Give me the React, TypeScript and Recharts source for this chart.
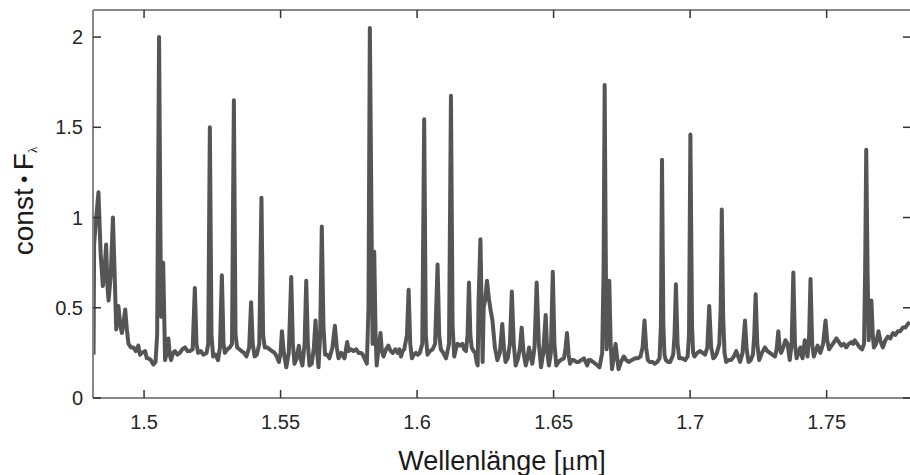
import { Label, Line, LineChart, XAxis, YAxis } from 'recharts'

// wavelength in µm, rows of 10 matching the flux rows below
const wavelength = [
  1.4815, 1.4817, 1.4822, 1.4833, 1.4841, 1.4849, 1.4855, 1.4861, 1.4866, 1.487,
  1.4878, 1.4886, 1.4892, 1.4898, 1.4906, 1.4913, 1.4919, 1.4925, 1.4931, 1.4937,
  1.4943, 1.4952, 1.4961, 1.497, 1.4979, 1.4985, 1.4992, 1.5004, 1.501, 1.5016,
  1.5025, 1.5034, 1.5042, 1.5048, 1.5055, 1.506, 1.5063, 1.507, 1.5077, 1.5083,
  1.5089, 1.5094, 1.5099, 1.5106, 1.5113, 1.5122, 1.5131, 1.514, 1.515, 1.5159,
  1.5168, 1.5178, 1.5186, 1.5192, 1.5198, 1.5208, 1.5217, 1.5229, 1.5235, 1.5241,
  1.5247, 1.5253, 1.5262, 1.5271, 1.5278, 1.5285, 1.5291, 1.5296, 1.5305, 1.5314,
  1.5322, 1.5329, 1.5335, 1.5341, 1.5349, 1.5357, 1.5366, 1.5375, 1.5385, 1.5392,
  1.5398, 1.5405, 1.5413, 1.5422, 1.543, 1.5436, 1.5442, 1.5451, 1.546, 1.5469,
  1.5478, 1.5486, 1.5494, 1.55, 1.5505, 1.5512, 1.5521, 1.553, 1.5539, 1.5545,
  1.5551, 1.5559, 1.5567, 1.5573, 1.558, 1.5588, 1.5594, 1.56, 1.5606, 1.5614,
  1.5622, 1.5628, 1.5634, 1.5639, 1.5645, 1.5651, 1.5657, 1.5663, 1.5671, 1.5679,
  1.569, 1.5699, 1.5706, 1.5712, 1.5722, 1.5734, 1.5744, 1.575, 1.5758, 1.5767,
  1.5777, 1.5786, 1.5795, 1.5801, 1.5807, 1.5816, 1.5822, 1.5827, 1.5833, 1.5837,
  1.5843, 1.5848, 1.5852, 1.5859, 1.5866, 1.5871, 1.5877, 1.5886, 1.5895, 1.5903,
  1.5911, 1.592, 1.5929, 1.5935, 1.5941, 1.5947, 1.5953, 1.5963, 1.5969, 1.5975,
  1.5981, 1.5988, 1.5996, 1.6003, 1.601, 1.6019, 1.6026, 1.6032, 1.6038, 1.6047,
  1.6057, 1.6066, 1.6075, 1.6081, 1.6087, 1.6096, 1.6106, 1.6117, 1.6124, 1.613,
  1.6136, 1.6142, 1.6148, 1.6157, 1.6166, 1.6172, 1.6179, 1.6185, 1.619, 1.6195,
  1.62, 1.6207, 1.6213, 1.6218, 1.6222, 1.6225, 1.6232, 1.6237, 1.624, 1.6244,
  1.625, 1.6256, 1.6263, 1.627, 1.6276, 1.6285, 1.6294, 1.6303, 1.6312, 1.6318,
  1.6324, 1.6332, 1.634, 1.6347, 1.6354, 1.6361, 1.637, 1.6377, 1.6383, 1.639,
  1.6398, 1.6404, 1.641, 1.6416, 1.6422, 1.643, 1.6438, 1.6446, 1.6454, 1.6462,
  1.6471, 1.6477, 1.6483, 1.649, 1.6497, 1.6503, 1.651, 1.6518, 1.6526, 1.6538,
  1.6544, 1.6549, 1.6555, 1.656, 1.6567, 1.6574, 1.6583, 1.6592, 1.6601, 1.6611,
  1.6617, 1.6623, 1.6629, 1.6635, 1.6644, 1.6653, 1.6661, 1.6668, 1.6678, 1.6683,
  1.6687, 1.6691, 1.6694, 1.6699, 1.6704, 1.6709, 1.6714, 1.672, 1.6727, 1.6733,
  1.6738, 1.6747, 1.6757, 1.6766, 1.6775, 1.6787, 1.6799, 1.6808, 1.6818, 1.6826,
  1.6833, 1.6839, 1.6845, 1.6852, 1.6862, 1.687, 1.688, 1.6888, 1.6893, 1.6897,
  1.6902, 1.6906, 1.6911, 1.6919, 1.6927, 1.6938, 1.6943, 1.6948, 1.6954, 1.696,
  1.6971, 1.6982, 1.6991, 1.6996, 1.7001, 1.7007, 1.7011, 1.7016, 1.7026, 1.7037,
  1.7046, 1.7055, 1.7063, 1.707, 1.7077, 1.7085, 1.7092, 1.7098, 1.7107, 1.7112,
  1.7116, 1.7121, 1.7126, 1.7132, 1.7141, 1.715, 1.716, 1.7169, 1.7176, 1.7183,
  1.7192, 1.7201, 1.7207, 1.7214, 1.7222, 1.723, 1.7235, 1.724, 1.7246, 1.7253,
  1.7263, 1.7274, 1.7283, 1.7292, 1.7301, 1.7311, 1.7317, 1.7323, 1.7328, 1.7333,
  1.7341, 1.7349, 1.7357, 1.7365, 1.7372, 1.7378, 1.7384, 1.739, 1.7397, 1.7404,
  1.7408, 1.7412, 1.742, 1.7425, 1.743, 1.7436, 1.7441, 1.7447, 1.7453, 1.746,
  1.7467, 1.7472, 1.7477, 1.7487, 1.7496, 1.7502, 1.7509, 1.7518, 1.7527, 1.7536,
  1.7545, 1.7554, 1.7563, 1.7572, 1.7581, 1.7591, 1.7597, 1.7603, 1.7612, 1.7621,
  1.763, 1.7637, 1.7641, 1.7645, 1.765, 1.7654, 1.7659, 1.7664, 1.7669, 1.7673,
  1.7681, 1.769, 1.7698, 1.7706, 1.7715, 1.7724, 1.7733, 1.7743, 1.7752, 1.7761,
  1.777, 1.7779, 1.7788, 1.7797, 1.7805,
]

const flux = [
  0.24, 0.85, 0.95, 1.14, 0.8, 0.62, 0.7, 0.85, 0.62, 0.54,
  0.68, 1.0, 0.7, 0.38, 0.51, 0.4, 0.36, 0.42, 0.49, 0.38,
  0.3, 0.28, 0.28, 0.26, 0.29, 0.24, 0.25, 0.26, 0.22, 0.22,
  0.21, 0.185, 0.2, 0.35, 2.0, 0.9, 0.45, 0.75, 0.21, 0.25,
  0.33, 0.24, 0.21, 0.25, 0.26, 0.24, 0.25, 0.27, 0.28, 0.26,
  0.26, 0.27, 0.61, 0.3, 0.25, 0.26, 0.24, 0.25, 0.3, 1.5,
  0.35, 0.23, 0.24, 0.21, 0.28, 0.68, 0.3, 0.25, 0.27, 0.28,
  0.3, 1.65, 0.35, 0.28, 0.27, 0.26, 0.25, 0.23, 0.28, 0.53,
  0.3, 0.23, 0.24, 0.3, 1.11, 0.35, 0.28, 0.28, 0.27, 0.26,
  0.25, 0.23, 0.2, 0.25, 0.37, 0.25, 0.17, 0.25, 0.67, 0.3,
  0.19, 0.22, 0.29, 0.22, 0.18, 0.3, 0.65, 0.3, 0.18, 0.19,
  0.28, 0.43, 0.25, 0.17, 0.35, 0.95, 0.4, 0.24, 0.24, 0.22,
  0.28, 0.4, 0.28, 0.22, 0.25, 0.22, 0.31, 0.26, 0.27, 0.26,
  0.27, 0.25, 0.25, 0.24, 0.22, 0.19, 0.5, 2.05, 1.0, 0.3,
  0.81, 0.35, 0.18, 0.28, 0.36, 0.26, 0.23, 0.27, 0.29, 0.26,
  0.25, 0.27, 0.25, 0.27, 0.23, 0.26, 0.27, 0.35, 0.6, 0.3,
  0.22, 0.24, 0.25, 0.24, 0.25, 0.3, 1.545, 0.35, 0.24, 0.26,
  0.27, 0.3, 0.74, 0.35, 0.27, 0.25, 0.22, 0.3, 1.675, 0.4,
  0.23, 0.27, 0.3, 0.29, 0.3, 0.27, 0.26, 0.35, 0.64, 0.35,
  0.28, 0.26, 0.25, 0.2, 0.18, 0.53, 0.88, 0.45, 0.2, 0.5,
  0.55, 0.65, 0.55, 0.48, 0.43, 0.28, 0.21, 0.25, 0.41, 0.28,
  0.2, 0.22, 0.3, 0.59, 0.3, 0.18, 0.22, 0.28, 0.39, 0.25,
  0.18, 0.22, 0.28, 0.23, 0.19, 0.28, 0.64, 0.3, 0.17, 0.25,
  0.46, 0.25, 0.18, 0.25, 0.7, 0.3, 0.18, 0.2, 0.21, 0.22,
  0.28, 0.36, 0.24, 0.19, 0.21, 0.21, 0.2, 0.2, 0.21, 0.22,
  0.2, 0.18, 0.21, 0.21, 0.2, 0.19, 0.18, 0.17, 0.25, 0.7,
  1.735, 0.8, 0.27, 0.4, 0.65, 0.3, 0.16, 0.22, 0.3, 0.22,
  0.16, 0.2, 0.23, 0.21, 0.2, 0.21, 0.22, 0.22, 0.23, 0.28,
  0.43, 0.28, 0.21, 0.2, 0.2, 0.19, 0.2, 0.22, 0.4, 1.32,
  0.4, 0.24, 0.21, 0.2, 0.2, 0.24, 0.35, 0.63, 0.3, 0.22,
  0.22, 0.21, 0.23, 0.35, 1.46, 0.4, 0.25, 0.23, 0.25, 0.26,
  0.25, 0.24, 0.28, 0.51, 0.28, 0.22, 0.23, 0.25, 0.3, 0.5,
  1.045, 0.45, 0.25, 0.2, 0.21, 0.21, 0.23, 0.26, 0.23, 0.2,
  0.25, 0.43, 0.27, 0.2, 0.21, 0.24, 0.35, 0.575, 0.3, 0.21,
  0.25, 0.28, 0.26, 0.25, 0.24, 0.23, 0.27, 0.37, 0.28, 0.25,
  0.28, 0.32, 0.3, 0.21, 0.3, 0.695, 0.3, 0.22, 0.25, 0.28,
  0.24, 0.22, 0.32, 0.28, 0.23, 0.35, 0.66, 0.3, 0.23, 0.26,
  0.29, 0.27, 0.25, 0.3, 0.43, 0.32, 0.27, 0.29, 0.31, 0.33,
  0.31, 0.29, 0.3, 0.28, 0.3, 0.31, 0.3, 0.32, 0.3, 0.28,
  0.27, 0.3, 0.7, 1.375, 0.7, 0.32, 0.42, 0.54, 0.35, 0.28,
  0.3, 0.37, 0.31, 0.28, 0.32, 0.34, 0.33, 0.36, 0.35, 0.37,
  0.37, 0.39, 0.39, 0.41, 0.42,
]

const xTicks = [1.5, 1.55, 1.6, 1.65, 1.7, 1.75]
const yTicks = [0, 0.5, 1, 1.5, 2]

const data = wavelength.map((w, i) => ({ w, f: flux[i] }))

const xDomain = [1.4813, 1.7809]
const yDomain = [0, 2.15]

const axisLine = { stroke: '#888888', strokeWidth: 2 }
const TICK = 8
const tickStroke = '#333333'
const textFill = '#262626'

// tick marks point into the plot, MATLAB style; tickSize=0 so x/y is the axis position
function BottomTick({ x, y, payload }: any) {
  return (
    <g>
      <line x1={x} y1={y} x2={x} y2={y - TICK} stroke={tickStroke} strokeWidth={1.5} />
      <text x={x} y={y + 31} textAnchor='middle' fontSize={20} fill={textFill}>
        {payload.value}
      </text>
    </g>
  )
}

function TopTick({ x, y }: any) {
  return <line x1={x} y1={y} x2={x} y2={y + TICK} stroke={tickStroke} strokeWidth={1.5} />
}

function LeftTick({ x, y, payload }: any) {
  return (
    <g>
      <line x1={x} y1={y} x2={x + TICK} y2={y} stroke={tickStroke} strokeWidth={1.5} />
      <text x={x - 10} y={y} dy='0.355em' textAnchor='end' fontSize={20} fill={textFill}>
        {payload.value}
      </text>
    </g>
  )
}

function RightTick({ x, y }: any) {
  return <line x1={x} y1={y} x2={x - TICK} y2={y} stroke={tickStroke} strokeWidth={1.5} />
}

export default function App() {
  return (
    <div style={{ position: 'absolute', left: 0, top: 0, width: 910, height: 475, overflow: 'hidden', background: '#fff' }}>
      <LineChart
        width={913}
        height={475}
        data={data}
        margin={{ top: 0, right: 0, bottom: 0, left: 0 }}
        style={{ fontFamily: "'Liberation Sans', Arial, sans-serif" }}
      >
        <XAxis
          dataKey='w'
          type='number'
          domain={xDomain}
          allowDataOverflow
          ticks={xTicks}
          interval={0}
          height={77}
          axisLine={axisLine}
          tickLine={false}
          tickSize={0}
          tickMargin={0}
          tick={<BottomTick />}
        >
          <Label
            content={() => (
              <text x={502} y={470} textAnchor='middle' fontSize={27} fill='#1a1a1a'>
                Wellenlänge [<tspan fontFamily="'Liberation Serif', serif">μ</tspan>m]
              </text>
            )}
          />
        </XAxis>
        <XAxis
          xAxisId='top'
          orientation='top'
          dataKey='w'
          type='number'
          domain={xDomain}
          allowDataOverflow
          ticks={xTicks}
          interval={0}
          height={10}
          axisLine={axisLine}
          tickLine={false}
          tickSize={0}
          tickMargin={0}
          tick={<TopTick />}
        />
        <YAxis
          type='number'
          domain={yDomain}
          allowDataOverflow
          ticks={yTicks}
          interval={0}
          width={93}
          axisLine={axisLine}
          tickLine={false}
          tickSize={0}
          tickMargin={0}
          tick={<LeftTick />}
        >
          <Label
            content={() => (
              <text
                x={33}
                y={201}
                transform='rotate(-90, 33, 201)'
                textAnchor='middle'
                fontSize={28}
                fill='#1a1a1a'
              >
                const<tspan fontSize={20} dy={-2}> • </tspan>
                <tspan dy={2}>F</tspan>
                <tspan fontSize={13} dy={4} fontFamily="'Liberation Serif', serif">λ</tspan>
              </text>
            )}
          />
        </YAxis>
        <YAxis
          yAxisId='right'
          orientation='right'
          type='number'
          domain={yDomain}
          allowDataOverflow
          ticks={yTicks}
          interval={0}
          width={2}
          axisLine={axisLine}
          tickLine={false}
          tickSize={0}
          tickMargin={0}
          tick={<RightTick />}
        />
        {/* invisible copy so the top and right frame axes get drawn */}
        <Line
          xAxisId='top'
          yAxisId='right'
          dataKey='f'
          stroke='none'
          dot={false}
          activeDot={false}
          isAnimationActive={false}
        />
        <Line
          type='linear'
          dataKey='f'
          stroke='#555555'
          strokeWidth={4}
          strokeLinejoin='round'
          dot={false}
          isAnimationActive={false}
        />
      </LineChart>
    </div>
  )
}
